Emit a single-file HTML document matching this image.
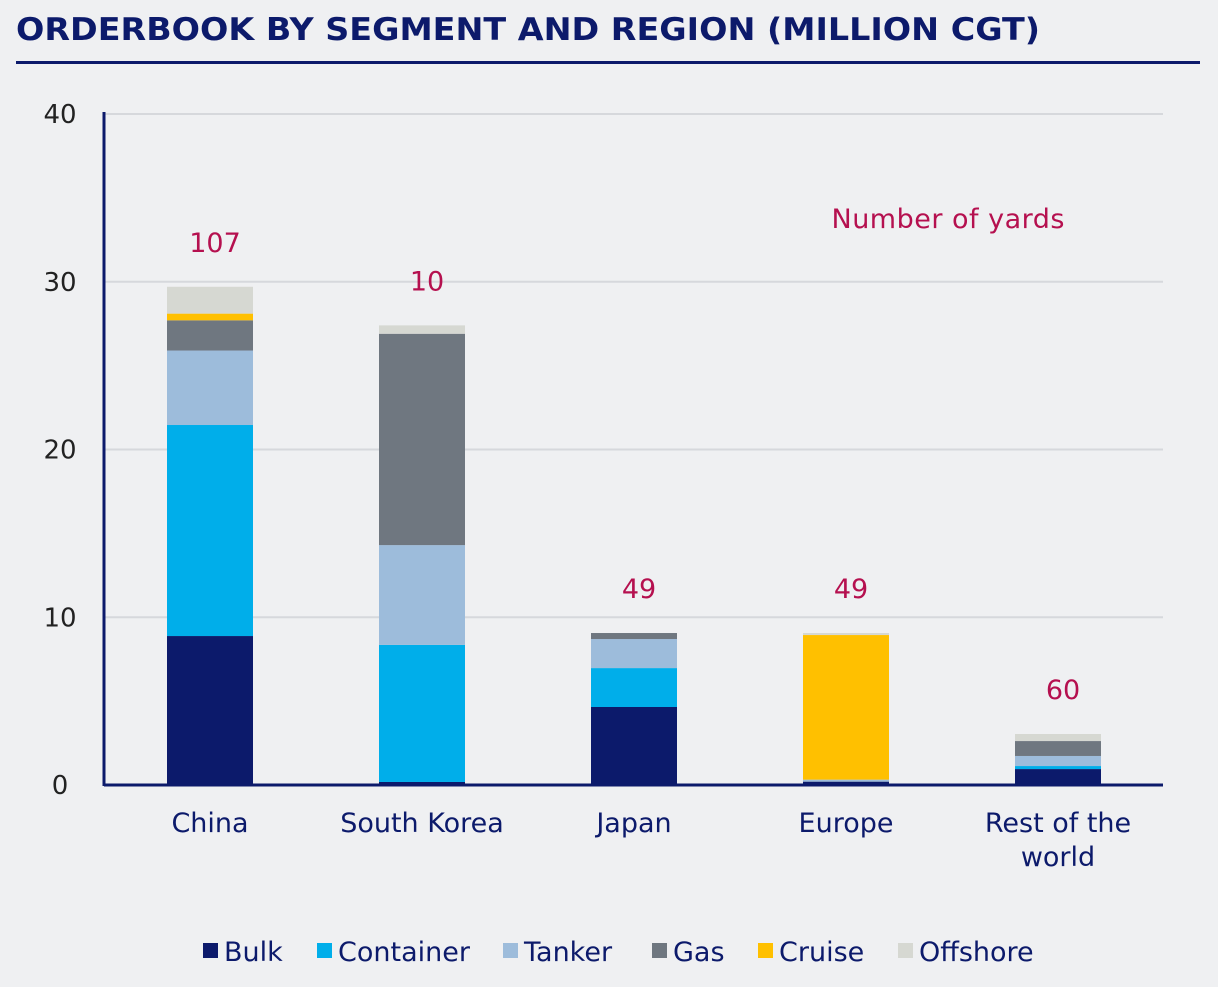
<!DOCTYPE html>
<html><head><meta charset="utf-8"><style>
body{margin:0;background:#eff0f2;font-family:"Liberation Sans","DejaVu Sans",sans-serif;}
svg text{font-family:"DejaVu Sans","Liberation Sans",sans-serif;}
</style></head><body>
<svg id="chart" width="1218" height="982" viewBox="0 0 1218 982" xmlns="http://www.w3.org/2000/svg">
<rect width="1218" height="982" fill="#eff0f2"/>
<text x="16" y="40" font-size="31" font-weight="bold" fill="#0c1a6b" textLength="1024" lengthAdjust="spacingAndGlyphs">ORDERBOOK BY SEGMENT AND REGION (MILLION CGT)</text>
<rect x="16" y="61" width="1184" height="3" fill="#0c1a6b"/>
<text x="948" y="228" font-size="27" fill="#b5104f" text-anchor="middle" textLength="233">Number of yards</text>
<g id="grid"></g><g id="bars"></g><g id="labels"></g>
<g id="legend"></g>
</svg>
<script>
const categories=["China","South Korea","Japan","Europe","Rest of the world"];
const yards=[107,10,49,49,60];
const seriesNames=["Bulk","Container","Tanker","Gas","Cruise","Offshore"];
const bulk=[8.88,0.18,4.65,0.2,0.95];
const container=[12.58,8.17,2.32,0,0.18];
const tanker=[4.44,5.95,1.73,0.12,0.6];
const gas=[1.8,12.6,0.36,0,0.89];
const cruise=[0.4,0,0,8.62,0];
const offshore=[1.6,0.5,0,0.12,0.42];
const yTicks=[0,10,20,30,40];
const colors=["#0c1a6b","#00aeea","#9dbcdb","#6f7780","#ffc000","#d6d8d2"];
const NS="http://www.w3.org/2000/svg";
const y0=785,yTop=114,yMax=40,xL=104,xR=1163,step=212,c0=210,bw=86;
const Y=v=>y0-(v/yMax)*(y0-yTop);
const X=i=>c0+i*step;
function mk(t,a,p){const e=document.createElementNS(NS,t);for(const k in a)e.setAttribute(k,a[k]);p.appendChild(e);return e;}
const grid=document.getElementById('grid'),bars=document.getElementById('bars'),labels=document.getElementById('labels'),leg=document.getElementById('legend');
yTicks.forEach(t=>{
 if(t>0){const l=mk('line',{x1:xL,x2:xR,y1:Y(t),y2:Y(t),stroke:'#d6d8dc','stroke-width':2},grid);
 
 }
 const tx=mk('text',{x:60,y:Y(t)+9,'font-size':26,fill:'#222','text-anchor':'middle'},grid);tx.textContent=t;
 
 
});
const series=[bulk,container,tanker,gas,cruise,offshore];
categories.forEach((c,i)=>{
 let acc=0;
 series.forEach((s,k)=>{const v=s[i];if(v<=0)return;
  const r=mk('rect',{x:X(i)-bw/2,y:Y(acc+v),width:bw,height:Y(acc)-Y(acc+v),fill:colors[k]},bars);
  
  
  acc+=v;});
 const n=mk('text',{x:X(i)+5,y:Y(acc)-35,'font-size':27,fill:'#b5104f','text-anchor':'middle'},labels);n.textContent=yards[i];
 
 
 const words=c==="Rest of the world"?["Rest of the","world"]:[c];
 words.forEach((w,j)=>{const t=mk('text',{x:X(i),y:832+j*34,'font-size':27,fill:'#0c1a6b','text-anchor':'middle'},labels);t.textContent=w;
 
 });
});
const ax=mk('line',{x1:104,x2:104,y1:112,y2:786,stroke:'#0c1a6b','stroke-width':3},grid);


const bx=mk('line',{x1:104,x2:xR,y1:y0,y2:y0,stroke:'#0c1a6b','stroke-width':3},bars);


const legX=[203,317,503,652,758,898];
seriesNames.forEach((s,k)=>{
 const g=mk('g',{},leg);
 
 
 mk('rect',{x:legX[k],y:943,width:15,height:15,fill:colors[k]},g);
 const t=mk('text',{x:legX[k]+21,y:961,'font-size':27,fill:'#0c1a6b'},g);t.textContent=s;
});
</script>
</body></html>
